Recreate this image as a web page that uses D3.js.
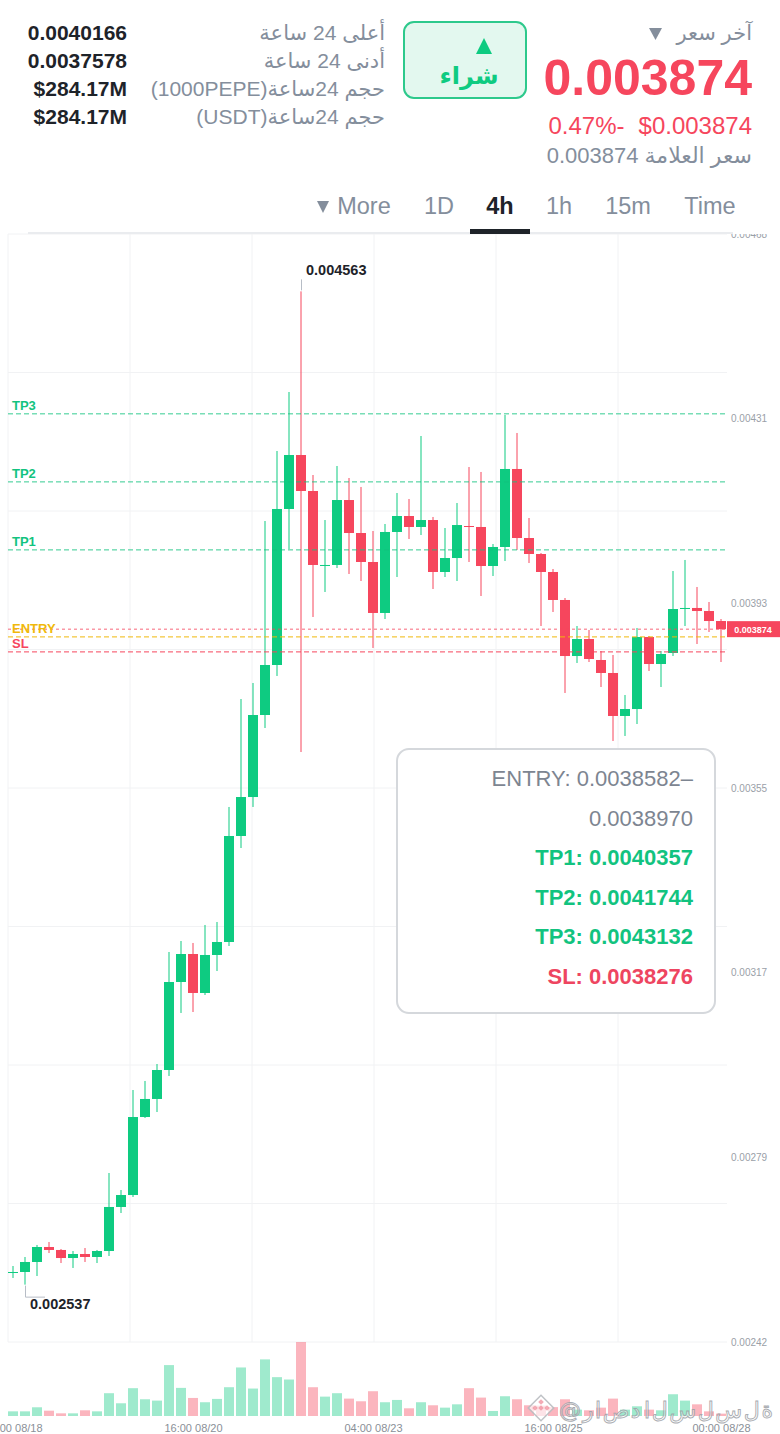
<!DOCTYPE html>
<html>
<head>
<meta charset="utf-8">
<script src="https://cdn.jsdelivr.net/npm/d3@7"></script>
<style>
  body { margin: 0; background: #fff; }
  #page { position: relative; width: 780px; height: 1434px; overflow: hidden;
          font-family: "Liberation Sans", Arial, "DejaVu Sans", sans-serif; }
  #page svg { position: absolute; left: 0; top: 0; }
  .h { position: absolute; white-space: nowrap; }
</style>
</head>
<body>
<div id="page"></div>
<script>
// 4h candles, 1000PEPE/USDT
var times = [
  "08/18 04:00", "08/18 08:00", "08/18 12:00", "08/18 16:00", "08/18 20:00",
  "08/19 00:00", "08/19 04:00", "08/19 08:00", "08/19 12:00", "08/19 16:00", "08/19 20:00",
  "08/20 00:00", "08/20 04:00", "08/20 08:00", "08/20 12:00", "08/20 16:00", "08/20 20:00",
  "08/21 00:00", "08/21 04:00", "08/21 08:00", "08/21 12:00", "08/21 16:00", "08/21 20:00",
  "08/22 00:00", "08/22 04:00", "08/22 08:00", "08/22 12:00", "08/22 16:00", "08/22 20:00",
  "08/23 00:00", "08/23 04:00", "08/23 08:00", "08/23 12:00", "08/23 16:00", "08/23 20:00",
  "08/24 00:00", "08/24 04:00", "08/24 08:00", "08/24 12:00", "08/24 16:00", "08/24 20:00",
  "08/25 00:00", "08/25 04:00", "08/25 08:00", "08/25 12:00", "08/25 16:00", "08/25 20:00",
  "08/26 00:00", "08/26 04:00", "08/26 08:00", "08/26 12:00", "08/26 16:00", "08/26 20:00",
  "08/27 00:00", "08/27 04:00", "08/27 08:00", "08/27 12:00", "08/27 16:00", "08/27 20:00",
  "08/28 00:00"
];

var opens = [
  0.0025608, 0.0025628, 0.0025832, 0.0026138, 0.0026077, 0.0025913, 0.0025995, 0.0025934, 0.0026056, 0.0026954,
  0.0027198, 0.0028789, 0.0029157, 0.0029748, 0.0031543, 0.0032114, 0.0031319, 0.0032094, 0.0032359, 0.0034521,
  0.0035316, 0.0036989, 0.0038009, 0.0041191, 0.0042292, 0.0041558, 0.0040049, 0.0040049, 0.0041374, 0.0040701,
  0.0040110, 0.0039070, 0.0040722, 0.0041048, 0.0040824, 0.0040966, 0.0039906, 0.0040191, 0.0040844, 0.0040824,
  0.0040028, 0.0040416, 0.0042007, 0.0040599, 0.0040273, 0.0039906, 0.0039335, 0.0038192, 0.0038539, 0.0038111,
  0.0037846, 0.0036969, 0.0037111, 0.0038580, 0.0038029, 0.0038254, 0.0039151, 0.0039172, 0.0039110, 0.0038906
];
var highs = [
  0.0025750, 0.0025934, 0.0026179, 0.0026240, 0.0026097, 0.0026056, 0.0026117, 0.0026077, 0.0027647, 0.0027300,
  0.0029340, 0.0029524, 0.0029870, 0.0032155, 0.0032379, 0.0032339, 0.0032706, 0.0032767, 0.0035113, 0.0037315,
  0.0037642, 0.0040946, 0.0042374, 0.0043577, 0.0045630, 0.0041884, 0.0040966, 0.0042068, 0.0041823, 0.0041640,
  0.0040742, 0.0040885, 0.0041517, 0.0041395, 0.0042680, 0.0041028, 0.0040803, 0.0041313, 0.0042047, 0.0041946,
  0.0040477, 0.0043108, 0.0042741, 0.0041007, 0.0040293, 0.0039967, 0.0039375, 0.0038804, 0.0038723, 0.0038294,
  0.0038213, 0.0037397, 0.0038764, 0.0038600, 0.0038294, 0.0039926, 0.0040151, 0.0039600, 0.0039294, 0.0038947
];
var lows = [
  0.0025506, 0.0025370, 0.0025546, 0.0026015, 0.0025811, 0.0025710, 0.0025832, 0.0025811, 0.0025954, 0.0026831,
  0.0027158, 0.0028769, 0.0028891, 0.0029626, 0.0030911, 0.0030931, 0.0031278, 0.0031767, 0.0032277, 0.0034276,
  0.0035113, 0.0036724, 0.0037785, 0.0040375, 0.0036234, 0.0038988, 0.0039498, 0.0039987, 0.0039865, 0.0039722,
  0.0038356, 0.0038947, 0.0039804, 0.0040579, 0.0040660, 0.0039559, 0.0039804, 0.0039722, 0.0040110, 0.0039416,
  0.0039824, 0.0040130, 0.0040355, 0.0040089, 0.0038804, 0.0039090, 0.0037438, 0.0038050, 0.0038070, 0.0037560,
  0.0036459, 0.0036561, 0.0036805, 0.0037887, 0.0037560, 0.0038192, 0.0038804, 0.0038437, 0.0038682, 0.0038070
];
var closes = [
  0.0025628, 0.0025832, 0.0026138, 0.0026077, 0.0025913, 0.0025995, 0.0025934, 0.0026056, 0.0026954, 0.0027198,
  0.0028789, 0.0029157, 0.0029748, 0.0031543, 0.0032114, 0.0031319, 0.0032094, 0.0032359, 0.0034521, 0.0035316,
  0.0036989, 0.0038009, 0.0041191, 0.0042292, 0.0041558, 0.0040049, 0.0040049, 0.0041374, 0.0040701, 0.0040110,
  0.0039070, 0.0040722, 0.0041048, 0.0040824, 0.0040966, 0.0039906, 0.0040191, 0.0040864, 0.0040824, 0.0040028,
  0.0040416, 0.0042007, 0.0040599, 0.0040273, 0.0039906, 0.0039335, 0.0038192, 0.0038539, 0.0038131, 0.0037846,
  0.0036969, 0.0037111, 0.0038580, 0.0038029, 0.0038233, 0.0039151, 0.0039172, 0.0039110, 0.0038906, 0.0038740
];
// relative volume (tallest bar = 100)
var volumes = [
  6.3, 6.3, 11.8, 7.2, 3.6, 3.6, 7.7, 6.3, 30.8, 17.2,
  37.6, 22.6, 20.8, 68.8, 38.0, 24.4, 18.6, 23.1, 38.9, 65.6,
  37.1, 76.5, 52.5, 49.3, 100, 38.9, 26.2, 30.8, 23.5, 19.9,
  33.5, 18.6, 21.7, 10.4, 18.6, 14.5, 11.3, 15.8, 37.6, 24.9,
  6.8, 26.7, 22.6, 14.5, 14.0, 12.0, 22.6, 8.6, 7.7, 11.3,
  23.5, 8.6, 13.1, 8.6, 7.7, 29.4, 20.8, 15.8, 6.3, 3.2
];

var levelNames = ["TP3", "TP2", "TP1", "ENTRY", "SL"];
var levelValues = [0.0043132, 0.0041744, 0.0040357, 0.0038582, 0.0038276];
var lastPrice = 0.003874;

var yTicks = [0.00468, 0.0043033, 0.0039267, 0.00355, 0.0031733, 0.0027967, 0.00242];
var yTickLabels = ["0.00468", "0.00431", "0.00393", "0.00355", "0.00317", "0.00279", "0.00242"];
var xTickKeys = ["08/18 04:00", "08/20 16:00", "08/23 04:00", "08/25 16:00", "08/28 00:00"];
var xTickLabels = ["00:00 08/18", "16:00 08/20", "04:00 08/23", "16:00 08/25", "00:00 08/28"];

var boxLines = ["ENTRY: 0.0038582–", "0.0038970", "TP1: 0.0040357", "TP2: 0.0041744", "TP3: 0.0043132", "SL: 0.0038276"];

var statLabels = ["أعلى 24 ساعة", "أدنى 24 ساعة", "حجم 24ساعة(1000PEPE)", "حجم 24ساعة(USDT)"];
var statValues = ["0.0040166", "0.0037578", "$284.17M", "$284.17M"];
var tabs = ["Time", "15m", "1h", "4h", "1D", "More"];

var green = "#0ecb81", red = "#f6465d", grey = "#848e9c", dark = "#1e2329";
var chartFont = '"Liberation Sans", Arial, sans-serif';

var page = d3.select("#page");
var svg = page.append("svg").attr("width", 780).attr("height", 1434);

// ---------- scales ----------
var candles = times.map(function(t, i) {
  return { t: t, o: opens[i], h: highs[i], l: lows[i], c: closes[i], v: volumes[i] };
});

var pL = 8, pR = 727, pT = 234, pB = 1342;
var x = d3.scalePoint().domain(times).range([13, 721]);
var y = d3.scaleLinear().domain([0.00242, 0.00468]).range([pB, pT]);
var vy = d3.scaleLinear().domain([0, d3.max(volumes)]).range([1416, 1342]);

// ---------- grid ----------
var grid = svg.append("g").attr("stroke", "#f1f2f4").attr("stroke-width", 1);
d3.range(9).forEach(function(k) {
  var yy = pT + k * (pB - pT) / 8;
  grid.append("line").attr("x1", pL).attr("x2", pR).attr("y1", yy).attr("y2", yy);
});
d3.range(6).forEach(function(k) {
  var xx = pL + k * 122;
  grid.append("line").attr("x1", xx).attr("x2", xx).attr("y1", pT).attr("y2", pB);
});

// ---------- volume ----------
svg.append("g").selectAll("rect").data(candles).enter().append("rect")
  .attr("x", function(d) { return x(d.t) - 5; })
  .attr("width", 10)
  .attr("y", function(d) { return vy(d.v); })
  .attr("height", function(d) { return vy(0) - vy(d.v); })
  .attr("fill", function(d) { return d.c >= d.o ? "rgba(14,203,129,0.4)" : "rgba(246,70,93,0.4)"; });

// ---------- candles ----------
var cg = svg.append("g").selectAll("g").data(candles).enter().append("g");
cg.append("line")
  .attr("x1", function(d) { return x(d.t); })
  .attr("x2", function(d) { return x(d.t); })
  .attr("y1", function(d) { return y(d.h); })
  .attr("y2", function(d) { return y(d.l); })
  .attr("stroke", function(d) { return d.c >= d.o ? green : red; })
  .attr("stroke-width", 1);
cg.append("rect")
  .attr("x", function(d) { return x(d.t) - 5; })
  .attr("width", 10)
  .attr("y", function(d) { return y(Math.max(d.o, d.c)); })
  .attr("height", function(d) { return Math.max(1, Math.abs(y(d.o) - y(d.c))); })
  .attr("fill", function(d) { return d.c >= d.o ? green : red; });

// ---------- level lines ----------
var levelColor = { TP3: "#12c37f", TP2: "#12c37f", TP1: "#12c37f", ENTRY: "#f0b90b", SL: red };
svg.append("line")
  .attr("x1", pL).attr("x2", pR)
  .attr("y1", y(lastPrice)).attr("y2", y(lastPrice))
  .attr("stroke", "rgba(246,70,93,0.55)").attr("stroke-width", 1.5)
  .attr("stroke-dasharray", "3,3");
levelNames.forEach(function(n, i) {
  var yy = y(levelValues[i]);
  svg.append("line")
    .attr("x1", pL).attr("x2", pR).attr("y1", yy).attr("y2", yy)
    .attr("stroke", levelColor[n]).attr("stroke-opacity", n === "ENTRY" || n === "SL" ? 1 : 0.85)
    .attr("stroke-width", 1).attr("stroke-dasharray", "5,3");
  svg.append("text")
    .attr("x", 12).attr("y", yy - 4)
    .attr("font-family", chartFont).attr("font-size", 13).attr("font-weight", "bold")
    .attr("fill", levelColor[n]).text(n);
});

// ---------- high / low marks ----------
var hi = candles[d3.maxIndex(candles, function(d) { return d.h; })];
var lo = candles[d3.minIndex(candles, function(d) { return d.l; })];
svg.append("line").attr("x1", x(hi.t) + 0.5).attr("x2", x(hi.t) + 0.5)
  .attr("y1", y(hi.h) - 12).attr("y2", y(hi.h) - 1).attr("stroke", "#b7bdc6");
svg.append("text").attr("x", x(hi.t) + 5).attr("y", y(hi.h) - 16)
  .attr("font-family", chartFont).attr("font-size", 14.5).attr("font-weight", "bold")
  .attr("fill", dark).text(hi.h.toFixed(6));
svg.append("path")
  .attr("d", "M" + (x(lo.t) + 0.5) + "," + (y(lo.l) + 1) + "V" + (y(lo.l) + 12.5) + "H" + (x(lo.t) + 20))
  .attr("fill", "none").attr("stroke", "#b7bdc6");
svg.append("text").attr("x", x(lo.t) + 5).attr("y", y(lo.l) + 24)
  .attr("font-family", chartFont).attr("font-size", 14.5).attr("font-weight", "bold")
  .attr("fill", dark).text(lo.l.toFixed(6));

// ---------- axes ----------
svg.append("clipPath").attr("id", "axclip").append("rect")
  .attr("x", 720).attr("y", pT).attr("width", 60).attr("height", 1200);
var yAxis = svg.append("g").attr("clip-path", "url(#axclip)")
  .append("g").attr("transform", "translate(728,0)")
  .call(d3.axisRight(y).tickValues(yTicks).tickSize(0).tickPadding(3)
    .tickFormat(function(d, i) { return yTickLabels[i]; }));
yAxis.select(".domain").remove();
yAxis.selectAll("text").attr("font-family", chartFont).attr("font-size", 10).attr("fill", "#9aa0a8");

var xAxis = svg.append("g").attr("transform", "translate(0,1424)")
  .call(d3.axisBottom(x).tickValues(xTickKeys).tickSize(0).tickPadding(0)
    .tickFormat(function(d, i) { return xTickLabels[i]; }));
xAxis.select(".domain").remove();
xAxis.selectAll("text").attr("font-family", chartFont).attr("font-size", 11).attr("fill", "#8a8f98");

// last price tag
svg.append("rect").attr("x", 727).attr("y", y(lastPrice) - 8).attr("width", 53).attr("height", 16).attr("fill", red);
svg.append("text").attr("x", 753).attr("y", y(lastPrice) + 3.5).attr("text-anchor", "middle")
  .attr("font-family", chartFont).attr("font-size", 9).attr("font-weight", "bold")
  .attr("fill", "#fff").text(lastPrice.toFixed(6));

// ---------- info box ----------
svg.append("rect").attr("x", 397).attr("y", 749).attr("width", 318).attr("height", 264).attr("rx", 12)
  .attr("fill", "#fff").attr("stroke", "#d5d8dc").attr("stroke-width", 2);
boxLines.forEach(function(s, i) {
  var col = i < 2 ? "#7d8591" : (s.indexOf("SL") === 0 ? "#ee4560" : "#12c37f");
  svg.append("text").attr("x", 693).attr("y", 786 + i * 39.6).attr("text-anchor", "end")
    .attr("font-family", chartFont).attr("font-size", 22)
    .attr("font-weight", i < 2 ? "normal" : "bold")
    .attr("fill", col).text(s);
});

// ---------- watermark ----------
var wm = svg.append("g").attr("opacity", 0.9);
wm.append("rect").attr("x", 532).attr("y", 1399).attr("width", 18).attr("height", 18)
  .attr("transform", "rotate(45,541,1408)")
  .attr("fill", "rgba(255,255,255,0.7)").attr("stroke", "#b9bcc0").attr("stroke-width", 1.5);
[[535, 1408], [541, 1408], [547, 1408], [541, 1402]].forEach(function(p) {
  wm.append("rect").attr("x", p[0] - 2).attr("y", p[1] - 2).attr("width", 4).attr("height", 4)
    .attr("transform", "rotate(45," + p[0] + "," + p[1] + ")").attr("fill", "#f3a3ae");
});
var chars = "@راصد السلسلة".split("");
var wx = 559, glyphs = [];
chars.forEach(function(ch) {
  var t = wm.append("text").attr("y", 1418).attr("font-family", '"DejaVu Sans", sans-serif')
    .attr("font-size", 22).attr("fill", "rgba(255,255,255,0.55)")
    .attr("stroke", "#9ea2a8").attr("stroke-width", 0.9).text(ch);
  glyphs.push(t);
});
var widths = glyphs.map(function(t) { return t.node().getComputedTextLength(); });
var gap = (214 - d3.sum(widths)) / (chars.length - 1);
glyphs.forEach(function(t, i) { t.attr("x", wx); wx += widths[i] + gap; });

// ---------- tabs ----------
svg.append("line").attr("x1", 28).attr("x2", 733).attr("y1", 233).attr("y2", 233)
  .attr("stroke", "#eaecef").attr("stroke-width", 2);
var tabX = [710, 628, 559, 500, 439, 364];
tabs.forEach(function(s, i) {
  svg.append("text").attr("x", tabX[i]).attr("y", 214).attr("text-anchor", "middle")
    .attr("font-family", chartFont).attr("font-size", 23.5)
    .attr("font-weight", s === "4h" ? "bold" : "normal")
    .attr("fill", s === "4h" ? dark : grey).text(s);
});
svg.append("path").attr("d", "M317,201 L329,201 L323,213 Z").attr("fill", grey);
svg.append("rect").attr("x", 470).attr("y", 229).attr("width", 60).attr("height", 5).attr("fill", dark);

// ---------- buy button ----------
svg.append("rect").attr("x", 404).attr("y", 22).attr("width", 122).attr("height", 76).attr("rx", 10)
  .attr("fill", "#e3f8ef").attr("stroke", "#2dc98c").attr("stroke-width", 2);
svg.append("path").attr("d", "M476,54 L492,54 L484,38 Z").attr("fill", green);
svg.append("text").attr("x", 469).attr("y", 84).attr("text-anchor", "middle")
  .attr("font-family", '"DejaVu Sans", sans-serif').attr("font-size", 24).attr("font-weight", "bold")
  .attr("fill", green).text("شراء");
// last price caret
svg.append("path").attr("d", "M649,28 L662,28 L655.5,40 Z").attr("fill", grey);

// ---------- header ----------
function hdiv(css, txt) {
  var d = page.append("div").attr("class", "h");
  Object.keys(css).forEach(function(k) { d.style(k, css[k]); });
  return d.html(txt);
}
hdiv({ right: "28px", top: "18px", "font-size": "21px", "line-height": "30px", color: grey, direction: "rtl" },
  'آخر سعر');
hdiv({ right: "28px", top: "49px", "font-size": "50px", "line-height": "58px", color: red, "font-weight": "bold" },
  lastPrice.toFixed(6));
hdiv({ right: "28px", top: "111px", "font-size": "24px", "line-height": "30px", color: red },
  '0.47%-<span style="margin-left:14px">$' + lastPrice.toFixed(6) + '</span>');
hdiv({ right: "28px", top: "141px", "font-size": "22px", "line-height": "30px", color: grey, direction: "rtl" },
  'سعر العلامة ' + lastPrice.toFixed(6));

statLabels.forEach(function(s, i) {
  hdiv({ right: "395px", top: (18 + i * 28) + "px", "font-size": "21px", "line-height": "30px",
         color: grey, direction: "rtl" }, s);
  hdiv({ right: "653px", top: (18 + i * 28) + "px", "font-size": "21px", "line-height": "30px",
         color: dark, "font-weight": "bold" }, statValues[i]);
});
</script>
</body>
</html>
